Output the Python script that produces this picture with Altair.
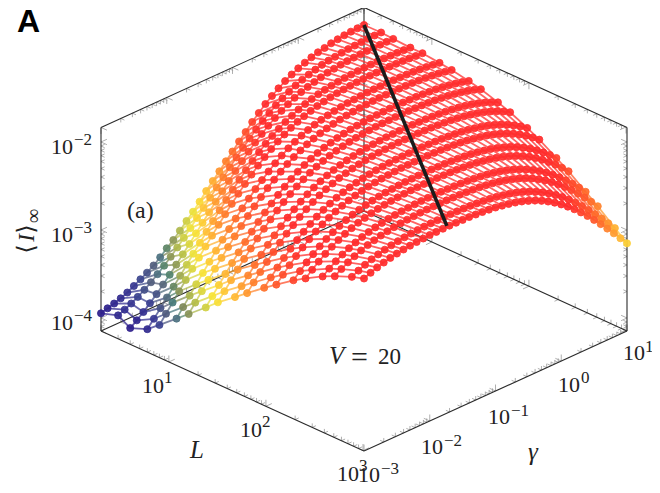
import math
import altair as alt
import pandas as pd

L_values = [2, 3, 4, 6, 8, 12, 16, 24, 32, 48, 64, 96, 128, 192, 256, 384, 512, 768, 1024]
gamma_exponents = [-3 + k / 10 for k in range(41)]

# minus log10 <I> read per L row, one value per gamma exponent
minus_log_I_L2 = [3.947,3.924,3.904,3.879,3.847,3.807,3.765,3.724,3.676,3.617,3.549,3.489,3.417,3.341,3.270,3.190,3.103,3.023,2.947,2.867,2.790,2.710,2.637,2.557,2.489,2.421,2.364,2.311,2.262,2.222,2.186,2.156,2.129,2.106,2.091,2.072,2.060,2.049,2.042,2.038,2.034]
minus_log_I_L3 = [3.882,3.851,3.815,3.774,3.728,3.676,3.618,3.556,3.489,3.417,3.342,3.265,3.185,3.104,3.022,2.940,2.859,2.779,2.701,2.626,2.554,2.487,2.424,2.367,2.313,2.268,2.226,2.190,2.159,2.134,2.112,2.092,2.078,2.068,2.057,2.049,2.043,2.038,2.033,2.031,2.031]
minus_log_I_L4 = [3.963,3.909,3.849,3.783,3.714,3.639,3.562,3.481,3.398,3.314,3.228,3.142,3.056,2.970,2.886,2.803,2.724,2.646,2.572,2.503,2.439,2.380,2.326,2.279,2.237,2.199,2.168,2.143,2.121,2.102,2.084,2.073,2.062,2.055,2.049,2.044,2.041,2.039,2.039,2.040,2.041]
minus_log_I_L6 = [3.887,3.803,3.717,3.629,3.540,3.450,3.359,3.268,3.178,3.088,3.000,2.912,2.828,2.746,2.667,2.592,2.521,2.455,2.394,2.339,2.292,2.248,2.211,2.175,2.147,2.124,2.103,2.088,2.075,2.064,2.056,2.050,2.045,2.041,2.039,2.038,2.038,2.040,2.042,2.046,2.051]
minus_log_I_L8 = [3.776,3.683,3.590,3.496,3.402,3.309,3.216,3.124,3.034,2.945,2.859,2.775,2.694,2.617,2.545,2.477,2.414,2.357,2.305,2.260,2.218,2.184,2.154,2.128,2.107,2.090,2.075,2.064,2.055,2.048,2.042,2.038,2.035,2.034,2.033,2.034,2.036,2.039,2.043,2.049,2.052]
minus_log_I_L12 = [3.616,3.519,3.423,3.327,3.233,3.140,3.048,2.958,2.871,2.786,2.704,2.627,2.553,2.485,2.421,2.362,2.308,2.260,2.220,2.184,2.154,2.128,2.107,2.090,2.075,2.063,2.053,2.046,2.040,2.035,2.033,2.031,2.030,2.031,2.033,2.035,2.039,2.045,2.052,2.061,2.073]
minus_log_I_L16 = [3.500,3.405,3.309,3.215,3.123,3.033,2.944,2.857,2.774,2.694,2.618,2.546,2.479,2.417,2.360,2.308,2.262,2.221,2.186,2.155,2.129,2.108,2.090,2.075,2.063,2.053,2.046,2.040,2.035,2.033,2.031,2.030,2.031,2.033,2.035,2.040,2.046,2.053,2.063,2.076,2.091]
minus_log_I_L24 = [3.338,3.243,3.151,3.058,2.969,2.882,2.797,2.715,2.638,2.565,2.497,2.433,2.374,2.320,2.272,2.230,2.193,2.162,2.135,2.113,2.094,2.078,2.065,2.055,2.047,2.041,2.036,2.033,2.031,2.030,2.031,2.033,2.035,2.039,2.045,2.052,2.061,2.073,2.088,2.105,2.127]
minus_log_I_L32 = [3.216,3.124,3.033,2.945,2.859,2.776,2.696,2.619,2.547,2.480,2.418,2.361,2.308,2.262,2.221,2.186,2.155,2.129,2.108,2.090,2.075,2.063,2.053,2.046,2.040,2.035,2.033,2.031,2.030,2.031,2.033,2.035,2.040,2.046,2.053,2.063,2.076,2.091,2.109,2.131,2.158]
minus_log_I_L48 = [3.068,2.978,2.890,2.805,2.723,2.645,2.571,2.502,2.438,2.378,2.324,2.275,2.232,2.195,2.163,2.135,2.113,2.094,2.078,2.065,2.055,2.047,2.041,2.036,2.033,2.031,2.030,2.031,2.033,2.035,2.039,2.045,2.052,2.061,2.073,2.088,2.105,2.127,2.153,2.183,2.219]
minus_log_I_L64 = [2.960,2.873,2.789,2.708,2.630,2.557,2.489,2.426,2.367,2.313,2.266,2.224,2.188,2.157,2.130,2.109,2.090,2.075,2.063,2.053,2.046,2.040,2.035,2.033,2.031,2.030,2.031,2.033,2.035,2.040,2.046,2.053,2.063,2.076,2.091,2.109,2.131,2.158,2.189,2.226,2.268]
minus_log_I_L96 = [2.811,2.728,2.649,2.574,2.504,2.439,2.379,2.324,2.275,2.232,2.195,2.163,2.135,2.113,2.094,2.078,2.065,2.055,2.047,2.041,2.036,2.033,2.031,2.030,2.031,2.033,2.035,2.039,2.045,2.052,2.061,2.073,2.088,2.105,2.127,2.153,2.183,2.219,2.260,2.306,2.358]
minus_log_I_L128 = [2.712,2.633,2.559,2.490,2.426,2.367,2.313,2.266,2.224,2.188,2.157,2.130,2.109,2.090,2.075,2.063,2.053,2.046,2.040,2.035,2.033,2.031,2.030,2.031,2.033,2.035,2.040,2.046,2.053,2.063,2.076,2.091,2.109,2.131,2.158,2.189,2.226,2.268,2.315,2.369,2.428]
minus_log_I_L192 = [2.574,2.504,2.439,2.379,2.324,2.275,2.232,2.195,2.163,2.135,2.113,2.094,2.078,2.065,2.055,2.047,2.041,2.036,2.033,2.031,2.030,2.031,2.033,2.035,2.039,2.045,2.052,2.061,2.073,2.088,2.105,2.127,2.153,2.183,2.219,2.260,2.306,2.358,2.416,2.479,2.548]
minus_log_I_L256 = [2.490,2.426,2.367,2.313,2.266,2.224,2.188,2.157,2.130,2.109,2.090,2.075,2.063,2.053,2.046,2.040,2.035,2.033,2.031,2.030,2.031,2.033,2.035,2.040,2.046,2.053,2.063,2.076,2.091,2.109,2.131,2.158,2.189,2.226,2.268,2.315,2.369,2.428,2.492,2.562,2.636]
minus_log_I_L384 = [2.379,2.324,2.275,2.232,2.195,2.163,2.135,2.113,2.094,2.078,2.065,2.055,2.047,2.041,2.036,2.033,2.031,2.030,2.031,2.033,2.035,2.039,2.045,2.052,2.061,2.073,2.088,2.105,2.127,2.153,2.183,2.219,2.260,2.306,2.358,2.416,2.479,2.548,2.621,2.699,2.781]
minus_log_I_L512 = [2.313,2.266,2.224,2.188,2.157,2.130,2.109,2.090,2.075,2.063,2.053,2.046,2.040,2.035,2.033,2.031,2.030,2.031,2.033,2.035,2.040,2.046,2.053,2.063,2.076,2.091,2.109,2.131,2.158,2.189,2.226,2.268,2.315,2.369,2.428,2.492,2.562,2.636,2.715,2.797,2.882]
minus_log_I_L768 = [2.232,2.195,2.163,2.135,2.113,2.094,2.078,2.065,2.055,2.047,2.041,2.036,2.033,2.031,2.030,2.031,2.033,2.035,2.039,2.045,2.052,2.061,2.073,2.088,2.105,2.127,2.153,2.183,2.219,2.260,2.306,2.358,2.416,2.479,2.548,2.621,2.699,2.781,2.865,2.952,3.042]
minus_log_I_L1024 = [2.188,2.157,2.130,2.109,2.090,2.075,2.063,2.053,2.046,2.040,2.035,2.033,2.031,2.030,2.031,2.033,2.035,2.040,2.046,2.053,2.063,2.076,2.091,2.109,2.131,2.158,2.189,2.226,2.268,2.315,2.369,2.428,2.492,2.562,2.636,2.715,2.797,2.882,2.970,3.060,3.152]

rows = [minus_log_I_L2, minus_log_I_L3, minus_log_I_L4, minus_log_I_L6, minus_log_I_L8, minus_log_I_L12,
        minus_log_I_L16, minus_log_I_L24, minus_log_I_L32, minus_log_I_L48, minus_log_I_L64, minus_log_I_L96,
        minus_log_I_L128, minus_log_I_L192, minus_log_I_L256, minus_log_I_L384, minus_log_I_L512,
        minus_log_I_L768, minus_log_I_L1024]

# thick black line: (log L, log gamma, log I) at both ends
ridge = [(math.log10(2), 1.0, -2.034), (math.log10(1024), -1.74, -2.02)]

color_stops = [-3.95, -3.8, -3.65, -3.52, -3.4, -3.25, -3.08, -2.92, -2.72, -2.45]
color_values = ["#2e1f8c", "#3a3a92", "#5c6478", "#808a5a", "#b8c048", "#f5e63a", "#ffbe38", "#ff8c30", "#ff5a2c", "#ff2d2d"]

LOG_L_MIN, LOG_L_MAX = math.log10(2), math.log10(1024)
LOG_G_MIN, LOG_G_MAX = -3.0, 1.0
Z_MIN, Z_MAX = -4.148, -1.835
FRONT_X, FRONT_Y = 364.0, 451.0
L_DX, L_DY = 263 / (LOG_L_MAX - LOG_L_MIN), 120 / (LOG_L_MAX - LOG_L_MIN)
G_DX, G_DY = 65.75, 30.0
Z_DY = 88.0


def project(log_l, log_g, log_i):
    g = log_g - LOG_G_MIN
    d = LOG_L_MAX - log_l
    return (FRONT_X + g * G_DX - d * L_DX, FRONT_Y - g * G_DY - d * L_DY - (log_i - Z_MIN) * Z_DY)


# mesh
points, segments = [], []
log_ls = [math.log10(v) for v in L_values]
for r, (ll, row) in enumerate(zip(log_ls, rows, strict=True)):
    for c, (lg, val) in enumerate(zip(gamma_exponents, row, strict=True)):
        x, y = project(ll, lg, -val)
        points.append(dict(x=x, y=y, logI=-val, depth=project(ll, lg, Z_MIN)[1]))
        if c + 1 < len(row):
            x2, y2 = project(ll, gamma_exponents[c + 1], -row[c + 1])
            segments.append(dict(x=x, y=y, x2=x2, y2=y2, logI=-(val + row[c + 1]) / 2))
        if r + 1 < len(rows):
            x2, y2 = project(log_ls[r + 1], lg, -rows[r + 1][c])
            segments.append(dict(x=x, y=y, x2=x2, y2=y2, logI=-(val + rows[r + 1][c]) / 2))
points_df = pd.DataFrame(points).sort_values("depth", kind="stable")
segments_df = pd.DataFrame(segments)

# box edges (two fixed coordinates, one running)
edges_L = [(LOG_G_MIN, Z_MIN), (LOG_G_MAX, Z_MIN), (LOG_G_MAX, Z_MAX)]
edges_G = [(LOG_L_MAX, Z_MIN), (LOG_L_MIN, Z_MIN), (LOG_L_MIN, Z_MAX)]
edges_Z = [(LOG_L_MIN, LOG_G_MIN), (LOG_L_MAX, LOG_G_MAX), (LOG_L_MIN, LOG_G_MAX)]

edge_rows = []
for g, z in edges_L:
    a, b = project(LOG_L_MIN, g, z), project(LOG_L_MAX, g, z)
    edge_rows.append(dict(x=a[0], y=a[1], x2=b[0], y2=b[1]))
for l, z in edges_G:
    a, b = project(l, LOG_G_MIN, z), project(l, LOG_G_MAX, z)
    edge_rows.append(dict(x=a[0], y=a[1], x2=b[0], y2=b[1]))
for l, g in edges_Z:
    a, b = project(l, g, Z_MIN), project(l, g, Z_MAX)
    edge_rows.append(dict(x=a[0], y=a[1], x2=b[0], y2=b[1]))
edges_df = pd.DataFrame(edge_rows)


def log_ticks(lo, hi):
    out = []
    for e in range(-6, 5):
        for m in range(1, 10):
            v = e + math.log10(m)
            if lo - 1e-6 <= v <= hi + 1e-6:
                out.append((v, m == 1))
    return out


UL = (263 / math.hypot(263, 120), 120 / math.hypot(263, 120))
UG = (263 / math.hypot(263, 120), -120 / math.hypot(263, 120))
UZ = (0.0, -1.0)
tick_rows = []


def add_tick(px, dirs, major):
    n = 6.5 if major else 4.0
    for (dx, dy), s in dirs:
        tick_rows.append(dict(x=px[0], y=px[1], x2=px[0] + s * n * dx, y2=px[1] + s * n * dy))


for v, major in log_ticks(LOG_L_MIN, LOG_L_MAX):
    for g, z in edges_L:
        add_tick(project(v, g, z), [(UG, 1 if g == LOG_G_MIN else -1), (UZ, 1 if z == Z_MIN else -1)], major)
for v, major in log_ticks(LOG_G_MIN, LOG_G_MAX):
    for l, z in edges_G:
        add_tick(project(l, v, z), [(UL, 1 if l == LOG_L_MIN else -1), (UZ, 1 if z == Z_MIN else -1)], major)
for v, major in log_ticks(Z_MIN, Z_MAX):
    for l, g in edges_Z:
        add_tick(project(l, g, v), [(UL, 1 if l == LOG_L_MIN else -1), (UG, 1 if g == LOG_G_MIN else -1)], major)
ticks_df = pd.DataFrame(tick_rows)

ridge_df = pd.DataFrame([dict(zip("xy", project(*p)), k=i) for i, p in enumerate(ridge)])

# label text: text, anchor x, anchor y
tens = [("10", 73, 323), ("10", 73, 235), ("10", 73, 147), ("10", 164, 386), ("10", 262, 430), ("10", 359, 474),
        ("10", 380, 475), ("10", 443, 447), ("10", 510, 417), ("10", 580, 385), ("10", 645, 353)]
supers = [("\u22124", 74, 316), ("\u22123", 74, 228), ("\u22122", 74, 140), ("1", 164, 378), ("2", 262, 422), ("3", 359, 466),
          ("\u22123", 381, 469), ("\u22122", 444, 441), ("\u22121", 511, 411), ("0", 581, 378), ("1", 645, 347)]
serif_plain = [("(a)", 127, 211)]
serif_equal = [("20", 378, 357)]
serif_wide = [("=", 351, 358)]
serif_italic = [("V", 329, 356), ("L", 190, 450), ("\u03b3", 528, 452)]
angle_plain = [("\u27e8", 27, 249), ("\u27e9", 27, 229)]
angle_italic = [("I", 27, 238)]
angle_sub = [("\u221e", 34, 216)]
panel = [("A", 17, 22)]

x_scale = alt.Scale(domain=[8, 652], nice=False, zero=False)
y_scale = alt.Scale(domain=[485, 8], nice=False, zero=False)
X = alt.X("x:Q", scale=x_scale, axis=None)
Y = alt.Y("y:Q", scale=y_scale, axis=None)
color = alt.Color("logI:Q", scale=alt.Scale(domain=color_stops, range=color_values, clamp=True), legend=None)
stroke = alt.Stroke("logI:Q", scale=alt.Scale(domain=color_stops, range=color_values, clamp=True), legend=None)


def rules(df, **kw):
    return alt.Chart(df).mark_rule(**kw).encode(x=X, y=Y, x2="x2:Q", y2="y2:Q")


def txt(items, **kw):
    df = pd.DataFrame(items, columns=["t", "x", "y"])
    return alt.Chart(df).mark_text(baseline="middle", **kw).encode(x=X, y=Y, text="t:N")


SERIF = "Liberation Serif"
INK = "#222222"
layers = [
    rules(ticks_df, color="#9a9a9a", strokeWidth=0.8),
    rules(edges_df, color="#2b2b2b", strokeWidth=1.1),
    alt.Chart(segments_df).mark_rule(strokeWidth=1.8, opacity=0.75).encode(x=X, y=Y, x2="x2:Q", y2="y2:Q", color=color),
    alt.Chart(points_df).mark_point(filled=True, size=50, fillOpacity=0.92, strokeOpacity=1, strokeWidth=0.8).encode(
        x=X, y=Y, fill=alt.Fill("logI:Q", scale=alt.Scale(domain=color_stops, range=color_values, clamp=True), legend=None), stroke=stroke),
    alt.Chart(ridge_df).mark_line(color="#1c1c1c", strokeWidth=3.6).encode(x=X, y=Y, order="k:O"),
    txt(tens, font=SERIF, fontSize=22, align="right", color=INK),
    txt(supers, font=SERIF, fontSize=17, align="left", color=INK),
    txt(serif_plain, font=SERIF, fontSize=24, align="left", color=INK),
    txt(serif_equal, font=SERIF, fontSize=23, align="left", color=INK),
    txt(serif_wide, font=SERIF, fontSize=30, align="left", color=INK),
    txt(serif_italic, font=SERIF, fontSize=25, fontStyle="italic", align="left", color=INK),
    txt(angle_plain, font="DejaVu Sans", fontSize=24, angle=270, align="center", color=INK),
    txt(angle_italic, font=SERIF, fontSize=23, fontStyle="italic", angle=270, align="center", color=INK),
    txt(angle_sub, font=SERIF, fontSize=20, angle=270, align="center", color=INK),
    txt(panel, font="Liberation Sans", fontSize=32, fontWeight="bold", align="left", color="#000000"),
]

chart = alt.layer(*layers).properties(
    width=644, height=477, padding=0, autosize=alt.AutoSizeParams(type="none")
).configure_view(stroke=None)

chart.save("out.html", embed_options={"renderer": "svg", "actions": False})
